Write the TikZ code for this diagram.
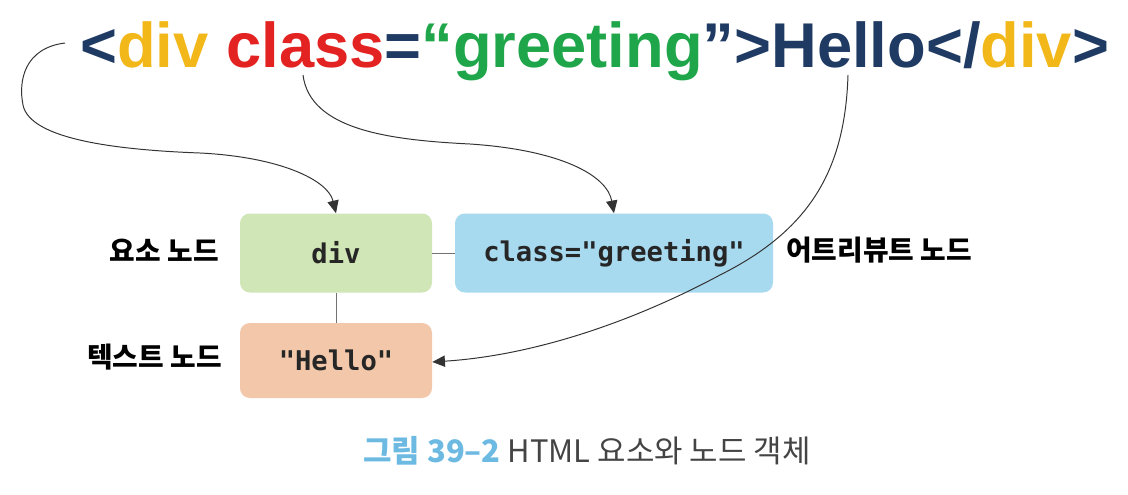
\documentclass[tikz,border=0pt]{standalone}
\usepackage{fontspec}
\setmainfont{Liberation Sans}
\setmonofont{DejaVu Sans Mono}
\newfontfamily\kr{Noto Sans CJK KR}
\usetikzlibrary{arrows.meta}
\definecolor{navy}{HTML}{1F3A63}
\definecolor{tagyel}{HTML}{F2B81A}
\definecolor{attred}{HTML}{E32322}
\definecolor{valgrn}{HTML}{1FA64A}
\definecolor{elgreen}{HTML}{D0E6B6}
\definecolor{atblue}{HTML}{A7D9EF}
\definecolor{txorange}{HTML}{F3C8AA}
\definecolor{capblue}{HTML}{6CB9E2}
\definecolor{capgray}{HTML}{444444}
\begin{document}
\begin{tikzpicture}[
   x=0.025cm,y=-0.025cm,
   nodebox/.style={rounded corners=7pt,minimum width=192*0.025cm,minimum height=79*0.025cm,
     inner sep=0pt,font=\ttfamily\bfseries\fontsize{19.3}{22}\selectfont,text=black!85},
   kind/.style={font=\kr\bfseries\fontsize{19.8}{22}\selectfont,inner sep=0pt},
   link/.style={draw=black!55,line width=0.7pt},
   pointer/.style={draw=black!80,line width=0.7pt,-{Triangle[length=9pt,width=8pt]}}
 ]
  \useasboundingbox (0,0) rectangle (1128,494);

  % the markup
  \node[anchor=base west,inner sep=0pt,text=navy,font=\bfseries\fontsize{45}{54}\selectfont] (code) at (80,67)
    {<\textcolor{tagyel}{div} \textcolor{attred}{class}=\textcolor{valgrn}{“greeting}”>Hello</\textcolor{tagyel}{div}>};

  % the nodes
  \node[nodebox,fill=elgreen] (div) at (336,253) {div};
  \node[nodebox,fill=atblue,minimum width=318*0.025cm] (attr) at (614,253) {class="greeting"};
  \node[nodebox,fill=txorange,minimum height=75*0.025cm] (txt) at (336,360.5) {"Hello"};
  \draw[link] (div) -- (attr);
  \draw[link] (div) -- (txt);

  \node[kind,anchor=east] (elk) at (219,250) {요소 노드};
  \node[kind,anchor=west] (atk) at (786,250) {어트리뷰트 노드};
  \node[kind,anchor=east] (txk) at (222,357) {텍스트 노드};

  % where the arrows leave the markup
  \coordinate (lt) at (65,43);
  \coordinate (cls) at (303,75);
  \coordinate (hel) at (848,75);

  \draw[pointer] (lt) .. controls (25,48) and (18,80) .. (23,105)
    .. controls (30,140) and (120,150) .. (200,153)
    .. controls (280,157) and (328,180) .. (div.north);
  \draw[pointer] (cls) .. controls (310,130) and (390,140) .. (470,144)
    .. controls (560,150) and (607,175) .. (attr.north);
  \draw[pointer] (hel) .. controls (845,170) and (810,230) .. (720,275)
    .. controls (640,318) and (540,355) .. (txt.east |- 0,362);

  \node[font=\kr\fontsize{22}{26}\selectfont,text=capgray] (cap) at (587,451)
    {\textcolor{capblue}{\bfseries 그림 39–2} HTML 요소와 노드 객체};
 \end{tikzpicture}
\end{document}
